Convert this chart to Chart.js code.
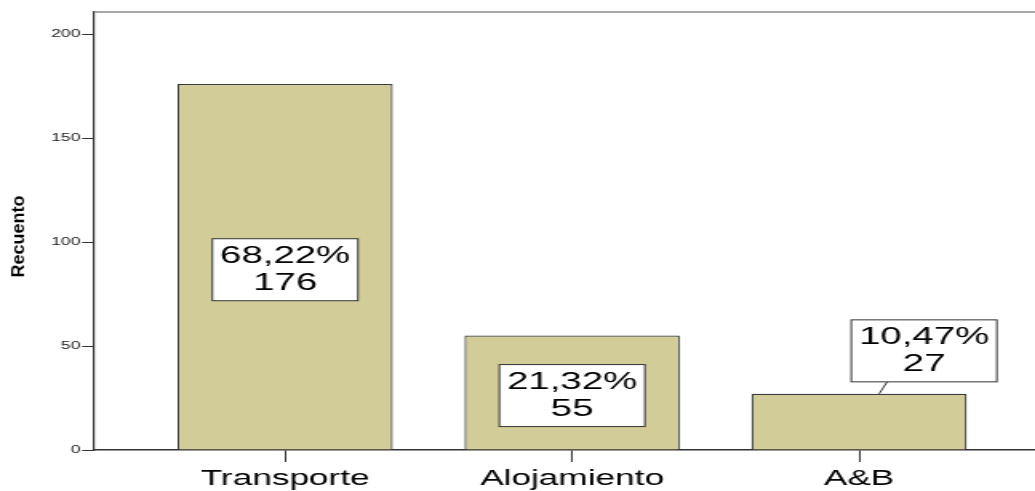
<!DOCTYPE html>
<html>
<head>
<meta charset="utf-8">
<title>Recuento</title>
<script src="https://cdn.jsdelivr.net/npm/chart.js@4.4.1/dist/chart.umd.min.js"></script>
<style>
  html, body { margin: 0; padding: 0; background: #fff; }
  #chart { display: block; }
</style>
</head>
<body>
<!-- drawn narrow and stretched wide, like the original export -->
<canvas id="chart" width="647" height="491" style="width:1035px;height:491px"></canvas>
<script>
const categories = ['Transporte', 'Alojamiento', 'A&B'];
const counts = [176, 55, 27];
const percents = [68.22, 21.32, 10.47];
const yTicks = [0, 50, 100, 150, 200];

(function () {
  'use strict';

  const S = 1035 / 647;           // horizontal stretch of the canvas
  const FONT = "'Liberation Sans', Arial, sans-serif";

  /* top frame line (no right border) */
  const frameTop = {
    id: 'frameTop',
    afterDraw(chart) {
      const { ctx, chartArea } = chart;
      ctx.save();
      ctx.strokeStyle = '#8a8a8a';
      ctx.lineWidth = 1.5;
      ctx.beginPath();
      ctx.moveTo(chartArea.left, chartArea.top);
      ctx.lineTo(chartArea.right, chartArea.top);
      ctx.stroke();
      ctx.restore();
    }
  };

  /* boxed labels: percent + count */
  const barLabels = {
    id: 'barLabels',
    afterDatasetsDraw(chart) {
      const ctx = chart.ctx;
      const meta = chart.getDatasetMeta(0);
      const bw = 91, bh = 62;
      meta.data.forEach((bar, i) => {
        const h = bar.base - bar.y;
        let cx = bar.x, cy = (bar.y + bar.base) / 2 + 3;
        let outside = false;
        if (h < bh + 10) {
          // bar too short: box sits above, offset right, with a leader
          outside = true;
          cx = bar.x + 40.6;
          cy = bar.y - 12 - bh / 2;
        }
        ctx.save();
        if (outside) {
          ctx.strokeStyle = '#333';
          ctx.lineWidth = 1;
          ctx.beginPath();
          ctx.moveTo(bar.x + 17.5, cy + bh / 2);
          ctx.lineTo(bar.x + 12.5, bar.y);
          ctx.stroke();
        }
        ctx.fillStyle = '#fff';
        ctx.fillRect(cx - bw / 2, cy - bh / 2, bw, bh);
        ctx.strokeStyle = '#333';
        ctx.lineWidth = 1;
        ctx.strokeRect(cx - bw / 2, cy - bh / 2, bw, bh);
        ctx.fillStyle = '#000';
        ctx.font = '24px ' + FONT;
        ctx.textAlign = 'center';
        ctx.textBaseline = 'middle';
        const pct = percents[i].toFixed(2).replace('.', ',') + '%';
        ctx.fillText(pct, cx, cy - 13.5);
        ctx.fillText(String(counts[i]), cx, cy + 13.5);
        ctx.restore();
      });
    }
  };

  /* y title, not stretched */
  const yTitle = {
    id: 'yTitle',
    afterDraw(chart) {
      const ctx = chart.ctx;
      ctx.save();
      ctx.translate(18.5 / S, 236.5);
      ctx.rotate(-Math.PI / 2);
      ctx.scale(1, 1 / S);
      ctx.fillStyle = '#000';
      ctx.font = 'bold 18px ' + FONT;
      ctx.textAlign = 'center';
      ctx.textBaseline = 'middle';
      ctx.fillText('Recuento', 0, 0);
      ctx.restore();
    }
  };

  new Chart(document.getElementById('chart'), {
    type: 'bar',
    data: {
      datasets: [{
        data: categories.map((c, i) => ({ x: i, y: counts[i] })),
        backgroundColor: '#D2CD98',
        borderColor: '#3a3a3a',
        borderWidth: 1.2,
        barPercentage: 0.75,
        categoryPercentage: 1
      }]
    },
    options: {
      responsive: false,
      animation: false,
      devicePixelRatio: 1,
      layout: { padding: { top: 12, right: 0, left: 0, bottom: 0 } },
      plugins: {
        legend: { display: false },
        tooltip: { enabled: false }
      },
      scales: {
        x: {
          type: 'linear',
          offset: false,
          min: -0.666,
          max: 2.613,
          afterBuildTicks: axis => { axis.ticks = categories.map((c, i) => ({ value: i })); },
          afterFit: axis => { axis.height = 41; },
          ticks: {
            callback: v => categories[v],
            color: '#000',
            font: { family: FONT, size: 22 },
            padding: 4,
            maxRotation: 0,
            autoSkip: false
          },
          grid: {
            offset: false,
            drawOnChartArea: false,
            drawTicks: true,
            tickLength: 12,
            tickColor: '#333',
            tickWidth: 1
          },
          border: { color: '#333', width: 1.5 }
        },
        y: {
          min: 0,
          max: 210.6,
          afterBuildTicks: axis => { axis.ticks = yTicks.map(v => ({ value: v })); },
          afterFit: axis => { axis.width = 94 / S; },
          ticks: {
            color: '#222',
            font: { family: FONT, size: 11 },
            padding: 1
          },
          grid: {
            drawOnChartArea: false,
            drawTicks: true,
            tickLength: 7.5,
            tickColor: '#333',
            tickWidth: 1
          },
          border: { color: '#333', width: 1.2 }
        }
      }
    },
    plugins: [frameTop, barLabels, yTitle]
  });
})();
</script>
</body>
</html>
